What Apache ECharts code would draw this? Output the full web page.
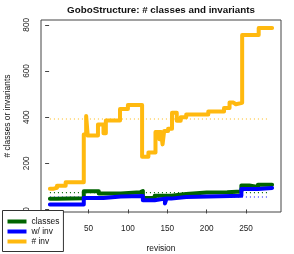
<!DOCTYPE html>
<html>
<head>
<meta charset="utf-8">
<script src="https://cdn.jsdelivr.net/npm/echarts@6/dist/echarts.min.js"></script>
<style>html,body{margin:0;padding:0;background:#fff}#c{width:294px;height:254px}</style>
</head>
<body>
<div id="c"></div>
<script>
// revision at which each value starts (step changes)
var invRev   = [1, 6, 10, 21, 44, 47, 49, 62, 69, 72, 90, 100, 118, 126, 135, 140, 142, 144, 146, 151, 156, 162, 167, 174, 202, 222, 229, 234, 237, 245, 266, 283];
var invVal   = [90, 94, 103, 118, 325, 405, 320, 368, 330, 386, 435, 453, 228, 247, 336, 304, 336, 282, 340, 350, 419, 384, 400, 411, 425, 440, 463, 456, 462, 756, 786, 786];
var clsRev   = [1, 10, 44, 63, 91, 116, 119, 134, 155, 174, 200, 226, 244, 254, 265, 283];
var clsVal   = [46, 49, 79, 69, 75, 80, 50, 59, 67, 74, 75, 78, 104, 97, 107, 107];
var winvRev  = [1, 44, 69, 91, 119, 134, 147, 149, 155, 174, 244, 265, 283];
var winvVal  = [22, 50, 56, 58, 40, 47, 26, 47, 54, 59, 89, 93, 93];
var meanRange = [1, 280];
var meanCls = 73, meanWinv = 54, meanInv = 392;
var xTicks = [50, 100, 150, 200, 250];
var yTicks = [0, 200, 400, 600, 800];
var names = ['classes', 'w/ inv', '# inv'];

function pairs(r, v) { return r.map(function (x, i) { return [x, v[i]]; }); }
function flat(v) { return meanRange.map(function (x) { return [x, v]; }); }

var FONT = 'Liberation Sans';
var cGreen = '#006400', cBlue = '#0000FF', cOrange = '#FFB90F';

function stepSeries(name, data, color) {
  return { name: name, type: 'line', step: 'end', data: data, showSymbol: false,
    itemStyle: { color: color }, lineStyle: { color: color, width: 4, cap: 'round', join: 'round' } };
}
function dotSeries(name, v, color) {
  return { name: name, type: 'line', data: flat(v), showSymbol: false, silent: true,
    lineStyle: { color: color, width: 1.2, type: [1, 3] } };
}

var chart = echarts.init(document.getElementById('c'), null, { renderer: 'canvas' });
chart.setOption({
  animation: false,
  grid: { left: 41, right: 13, top: 20, bottom: 42, show: true, borderColor: '#444', borderWidth: 1, backgroundColor: 'transparent' },
  xAxis: {
    type: 'value', min: -10.3, max: 294.3,
    axisLine: { show: false },
    splitLine: { show: false },
    axisTick: { show: true, customValues: xTicks, length: 4, inside: false, lineStyle: { color: '#444' } },
    axisLabel: { customValues: xTicks, margin: 13, fontFamily: FONT, fontSize: 8.2, color: '#222' }
  },
  yAxis: {
    type: 'value', min: -11, max: 821,
    axisLine: { show: false },
    splitLine: { show: false },
    axisTick: { show: true, customValues: yTicks, length: 4, inside: false, lineStyle: { color: '#444' } },
    axisLabel: { customValues: yTicks, rotate: 90, margin: 10, fontFamily: FONT, fontSize: 8.2, color: '#222' }
  },
  legend: {
    data: names, orient: 'vertical', left: 2.5, top: 210.5,
    icon: 'rect', itemWidth: 19, itemHeight: 4, itemGap: 0,
    padding: [6, 4, 5, 5],
    backgroundColor: '#fff', borderColor: '#333', borderWidth: 1, borderRadius: 0,
    textStyle: { fontFamily: FONT, fontSize: 8.4, color: '#111', lineHeight: 10 },
    selectedMode: false, z: 10
  },
  graphic: [
    { type: 'text', x: 161, y: 10.5, style: { text: 'GoboStructure: # classes and invariants', font: 'bold 9.8px "Liberation Sans"', fill: '#111', textAlign: 'center', textVerticalAlign: 'middle' } },
    { type: 'text', x: 161, y: 249, style: { text: 'revision', font: '8.4px "Liberation Sans"', fill: '#111', textAlign: 'center', textVerticalAlign: 'middle' } },
    { type: 'text', x: 8, y: 116, rotation: Math.PI / 2, style: { text: '# classes or invariants', font: '8.4px "Liberation Sans"', fill: '#111', textAlign: 'center', textVerticalAlign: 'middle' } }
  ],
  series: [
    dotSeries('mean classes', meanCls, cGreen),
    dotSeries('mean w/ inv', meanWinv, cBlue),
    dotSeries('mean # inv', meanInv, cOrange),
    stepSeries(names[0], pairs(clsRev, clsVal), cGreen),
    stepSeries(names[1], pairs(winvRev, winvVal), cBlue),
    stepSeries(names[2], pairs(invRev, invVal), cOrange)
  ]
});
</script>
</body>
</html>
